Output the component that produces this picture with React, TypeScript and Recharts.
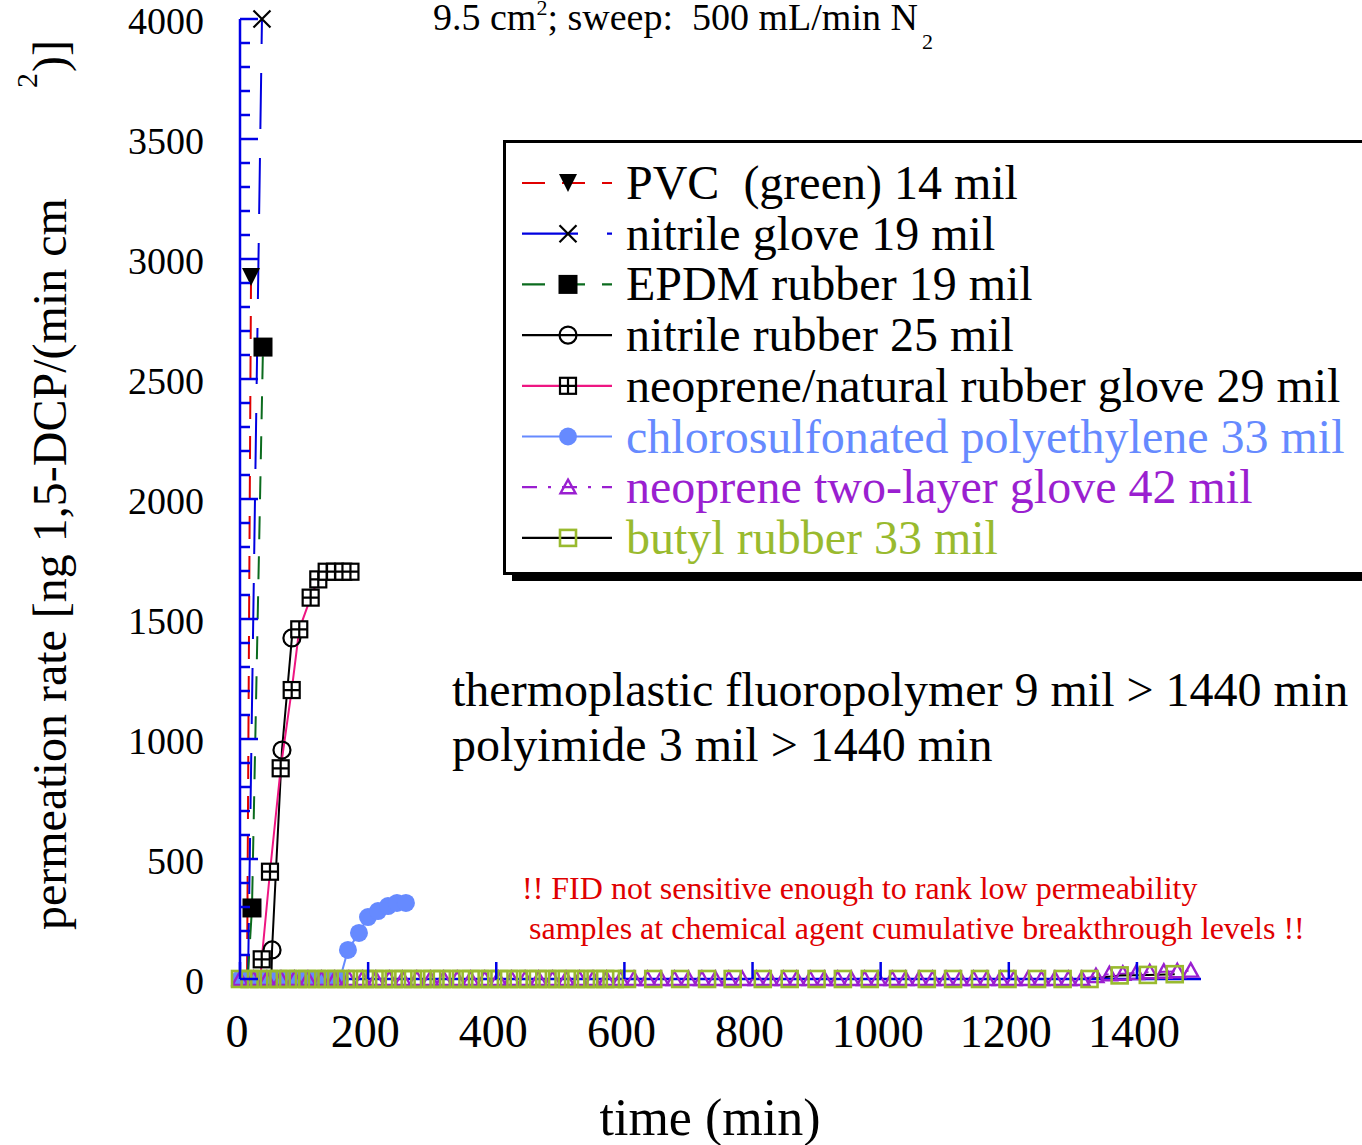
import React from 'react';
import { LineChart, Line, XAxis, YAxis } from 'recharts';

const FONT = '"Liberation Serif", "Times New Roman", serif';
const AXIS_BLUE = '#0000E6';

// ---------- data (time in min, permeation rate in ng/(min cm2)) ----------
const pvcTime = [11, 17.2];
const pvcRate = [0, 2925];

const nitrileGloveTime = [12.5, 34.3];
const nitrileGloveRate = [0, 4000];

const epdmTime = [12, 18.7, 35.9];
const epdmRate = [0, 296, 2633];

const nitrileRubberTime = [49, 50, 65.5, 81];
const nitrileRubberRate = [0, 121, 954, 1421];

const neopreneNaturalTime = [32, 33.9, 46.8, 63.5, 80.7, 92.5, 110.3, 122.2, 135.3, 148.3, 161.2, 172.4];
const neopreneNaturalRate = [0, 82, 447, 878, 1204, 1457, 1589, 1665, 1697, 1697, 1697, 1697];

const chloroTime = [0, 13, 26, 39, 52, 65, 78, 91, 104, 117, 130, 143, 156, 168.5, 185.7, 199.8, 215.4, 231, 245, 259];
const chloroRate = [0, 0, 0, 0, 0, 0, 0, 0, 0, 0, 0, 0, 0, 121, 192, 258, 283, 304, 317, 317];

const twoLayerTime = [0, 21, 42, 64, 85, 106, 127, 148, 170, 191, 212, 233, 254, 276, 297, 318, 339, 360, 382, 403, 424, 445, 466, 488, 509, 530, 551, 572, 594, 615, 636, 657, 678, 700, 721, 742, 763, 784, 806, 827, 848, 869, 890, 912, 933, 954, 975, 996, 1018, 1039, 1060, 1081, 1102, 1124, 1145, 1166, 1187, 1208, 1230, 1251, 1272, 1293, 1314, 1336, 1357, 1378, 1399, 1420, 1442, 1463, 1484];
const twoLayerRate = [0, 0, 0, 0, 0, 0, 0, 0, 0, 0, 0, 0, 0, 0, 0, 0, 0, 0, 0, 0, 0, 0, 0, 0, 0, 0, 0, 0, 0, 0, 0, 0, 0, 0, 0, 0, 0, 0, 0, 0, 0, 0, 0, 0, 0, 0, 0, 0, 0, 0, 0, 0, 0, 0, 0, 0, 0, 0, 0, 0, 0, 0, 0, 12, 20, 22, 25, 28, 30, 32, 35];

const butylTime = [0, 15, 30, 45, 60, 75, 90, 105, 120, 135, 150, 165, 180, 195, 210, 225, 240, 255, 270, 285, 300, 315, 330, 345, 360, 375, 390, 405, 420, 435, 450, 465, 480, 495, 510, 525, 540, 555, 570, 585, 604, 645, 687, 729, 769, 816, 858, 900, 941, 983, 1027, 1072, 1113, 1155, 1198, 1244, 1284, 1326, 1373, 1417, 1459];
const butylRate = [0, 0, 0, 0, 0, 0, 0, 0, 0, 0, 0, 0, 0, 0, 0, 0, 0, 0, 0, 0, 0, 0, 0, 0, 0, 0, 0, 0, 0, 0, 0, 0, 0, 0, 0, 0, 0, 0, 0, 0, 0, 0, 0, 0, 0, 0, 0, 0, 0, 0, 0, 0, 0, 0, 0, 0, 0, 0, 15, 17, 20];

const xTicks = [0, 200, 400, 600, 800, 1000, 1200, 1400];
const yTicks = [0, 100, 200, 300, 400, 500, 600, 700, 800, 900, 1000, 1100, 1200, 1300, 1400, 1500, 1600, 1700, 1800, 1900, 2000, 2100, 2200, 2300, 2400, 2500, 2600, 2700, 2800, 2900, 3000, 3100, 3200, 3300, 3400, 3500, 3600, 3700, 3800, 3900, 4000];
const yLabelStep = 500;

const titleMain = '9.5 cm';
const titleRest = '; sweep:  500 mL/min N';
const xTitle = 'time (min)';
const yTitleMain = 'permeation rate [ng 1,5-DCP/(min cm';
const noteLines = ['thermoplastic fluoropolymer 9 mil > 1440 min', 'polyimide 3 mil > 1440 min'];
const warnLines = ['!! FID not sensitive enough to rank low permeability', 'samples at chemical agent cumulative breakthrough levels !!'];

type Shape = 'triDown' | 'x' | 'squareFill' | 'circleOpen' | 'squareCross' | 'circleFill' | 'triOpen' | 'squareOpen';

const toPoints = (t: number[], v: number[]) => t.map((x, i) => ({ t: x, v: v[i] }));

const series = [
  { key: 'pvc', name: 'PVC  (green) 14 mil', data: toPoints(pvcTime, pvcRate), stroke: '#E00000', dash: '23 17', shape: 'triDown' as Shape, mColor: '#000', size: 18, text: '#000', hideZero: true },
  { key: 'nglove', name: 'nitrile glove 19 mil', data: toPoints(nitrileGloveTime, nitrileGloveRate), stroke: '#0000E0', dash: '56 29', shape: 'x' as Shape, mColor: '#000', size: 17, text: '#000', hideZero: true },
  { key: 'epdm', name: 'EPDM rubber 19 mil', data: toPoints(epdmTime, epdmRate), stroke: '#0B6B1E', dash: '23 17', shape: 'squareFill' as Shape, mColor: '#000', size: 19, text: '#000', hideZero: true },
  { key: 'nrub', name: 'nitrile rubber 25 mil', data: toPoints(nitrileRubberTime, nitrileRubberRate), stroke: '#000', dash: undefined, shape: 'circleOpen' as Shape, mColor: '#000', size: 17, text: '#000', hideZero: true },
  { key: 'neonat', name: 'neoprene/natural rubber glove 29 mil', data: toPoints(neopreneNaturalTime, neopreneNaturalRate), stroke: '#EE1682', dash: undefined, shape: 'squareCross' as Shape, mColor: '#000', size: 16, text: '#000', hideZero: true },
  { key: 'chloro', name: 'chlorosulfonated polyethylene 33 mil', data: toPoints(chloroTime, chloroRate), stroke: '#668AFF', dash: undefined, shape: 'circleFill' as Shape, mColor: '#668AFF', size: 18, text: '#668AFF', hideZero: false },
  { key: 'twolayer', name: 'neoprene two-layer glove 42 mil', data: toPoints(twoLayerTime, twoLayerRate), stroke: '#9A1FD0', dash: '15 11 3 11', shape: 'triOpen' as Shape, mColor: '#9A1FD0', size: 15, text: '#9A1FD0', hideZero: false },
  { key: 'butyl', name: 'butyl rubber 33 mil', data: toPoints(butylTime, butylRate), stroke: '#000', dash: undefined, shape: 'squareOpen' as Shape, mColor: '#99BA2E', size: 16, text: '#99BA2E', hideZero: false },
];

function MarkerShape({ shape, cx, cy, color, size }: { shape: Shape; cx: number; cy: number; color: string; size: number }) {
  const s = size / 2;
  switch (shape) {
    case 'triDown':
      return <path d={`M${cx - s},${cy - s}L${cx + s},${cy - s}L${cx},${cy + s}Z`} fill={color} />;
    case 'x':
      return <path d={`M${cx - s},${cy - s}L${cx + s},${cy + s}M${cx - s},${cy + s}L${cx + s},${cy - s}`} stroke={color} strokeWidth={2.2} fill="none" />;
    case 'squareFill':
      return <rect x={cx - s} y={cy - s} width={size} height={size} fill={color} />;
    case 'circleOpen':
      return <circle cx={cx} cy={cy} r={s} fill="none" stroke={color} strokeWidth={2.2} />;
    case 'squareCross':
      return (
        <g>
          <rect x={cx - s} y={cy - s} width={size} height={size} fill="#fff" stroke={color} strokeWidth={2.2} />
          <path d={`M${cx - s},${cy}L${cx + s},${cy}M${cx},${cy - s}L${cx},${cy + s}`} stroke={color} strokeWidth={2.2} />
        </g>
      );
    case 'circleFill':
      return <circle cx={cx} cy={cy} r={s} fill={color} />;
    case 'triOpen':
      return <path d={`M${cx},${cy - s}L${cx + s},${cy + s * 0.8}L${cx - s},${cy + s * 0.8}Z`} fill="none" stroke={color} strokeWidth={2.4} />;
    case 'squareOpen':
      return <rect x={cx - s} y={cy - s} width={size} height={size} fill="none" stroke={color} strokeWidth={2.6} />;
  }
  return null;
}

const XTick = (props: any) => {
  const { x, y, payload } = props;
  return (
    <g>
      <line x1={x} x2={x} y1={y} y2={y - 17} stroke={AXIS_BLUE} strokeWidth={2.5} />
      <text x={x - 3} y={y + 68} textAnchor="middle" fontSize={46} fontFamily={FONT} fill="#000">
        {payload.value}
      </text>
    </g>
  );
};

const YTick = (props: any) => {
  const { x, y, payload } = props;
  const v = payload.value;
  const major = v % yLabelStep === 0;
  return (
    <g>
      <line x1={x} x2={x + (major ? 18 : 10)} y1={y} y2={y} stroke={AXIS_BLUE} strokeWidth={2.5} />
      {major && (
        <text x={x - 36} y={y + 15} textAnchor="end" fontSize={38} fontFamily={FONT} fill="#000">
          {v}
        </text>
      )}
    </g>
  );
};

function Overlay() {
  const rowBase = 199;
  const rowStep = 50.7;
  return (
    <svg width={1362} height={1145} style={{ position: 'absolute', left: 0, top: 0, pointerEvents: 'none' }} fontFamily={FONT}>
      {/* title */}
      <text x={433} y={30} fontSize={38} fill="#000" style={{ whiteSpace: 'pre' }}>
        {titleMain}
        <tspan dy={-15} fontSize={22}>2</tspan>
        <tspan dy={15} fontSize={38}>{titleRest}</tspan>
        <tspan dy={19} dx={4} fontSize={22}>2</tspan>
      </text>

      {/* y title */}
      <text transform="translate(66,930) rotate(-90)" fontSize={48} fill="#000" style={{ whiteSpace: 'pre' }}>
        {yTitleMain}
      </text>
      <text transform="translate(37,88) rotate(-90)" fontSize={30} fill="#000">2</text>
      <text transform="translate(66,72) rotate(-90)" fontSize={48} fill="#000">)]</text>

      {/* x title */}
      <text x={710} y={1135} fontSize={52} textAnchor="middle" fill="#000">{xTitle}</text>

      {/* legend */}
      <rect x={512} y={149} width={870} height={432} fill="#000" />
      <rect x={504.5} y={141.5} width={870} height={432} fill="#fff" stroke="#000" strokeWidth={3} />
      {series.map((s, i) => {
        const base = rowBase + i * rowStep;
        const cy = base - 16;
        return (
          <g key={s.key}>
            <line x1={522} x2={612} y1={cy} y2={cy} stroke={s.stroke} strokeWidth={2.2} strokeDasharray={s.dash} />
            <MarkerShape shape={s.shape} cx={568} cy={cy} color={s.mColor} size={s.size} />
            <text x={626} y={base} fontSize={48} fill={s.text} style={{ whiteSpace: 'pre' }}>{s.name}</text>
          </g>
        );
      })}

      {/* notes */}
      <text x={452} y={706} fontSize={48} fill="#000">{noteLines[0]}</text>
      <text x={452} y={761} fontSize={48} fill="#000">{noteLines[1]}</text>
      <text x={522} y={899} fontSize={32} fill="#E00000">{warnLines[0]}</text>
      <text x={529} y={939} fontSize={32} fill="#E00000">{warnLines[1]}</text>
    </svg>
  );
}

export default function App() {
  return (
    <div style={{ position: 'absolute', left: 0, top: 0, width: 1362, height: 1145, background: '#fff' }}>
      <LineChart width={1362} height={1145} margin={{ top: 19, right: 161, bottom: 0, left: 180 }}>
        <XAxis
          dataKey="t"
          type="number"
          domain={[0, 1500]}
          ticks={xTicks}
          interval={0}
          height={166}
          tickSize={0}
          tickMargin={0}
          tickLine={false}
          axisLine={{ stroke: AXIS_BLUE, strokeWidth: 2.5 }}
          tick={<XTick />}
        />
        <YAxis
          dataKey="v"
          type="number"
          domain={[0, 4000]}
          ticks={yTicks}
          interval={0}
          width={60}
          tickSize={0}
          tickMargin={0}
          tickLine={false}
          axisLine={{ stroke: AXIS_BLUE, strokeWidth: 2.5 }}
          tick={<YTick />}
        />
        {series.map((s) => (
          <Line
            key={s.key}
            data={s.data}
            dataKey="v"
            name={s.name}
            type="linear"
            stroke={s.stroke}
            strokeWidth={2}
            strokeDasharray={s.dash}
            isAnimationActive={false}
            legendType="none"
            dot={(p: any) => {
              const k = `${s.key}-${p.index}`;
              if (s.hideZero && p.payload && p.payload.v === 0) return <g key={k} />;
              return (
                <g key={k}>
                  <MarkerShape shape={s.shape} cx={p.cx} cy={p.cy} color={s.mColor} size={s.size} />
                </g>
              );
            }}
            activeDot={false}
          />
        ))}
      </LineChart>
      <Overlay />
    </div>
  );
}
